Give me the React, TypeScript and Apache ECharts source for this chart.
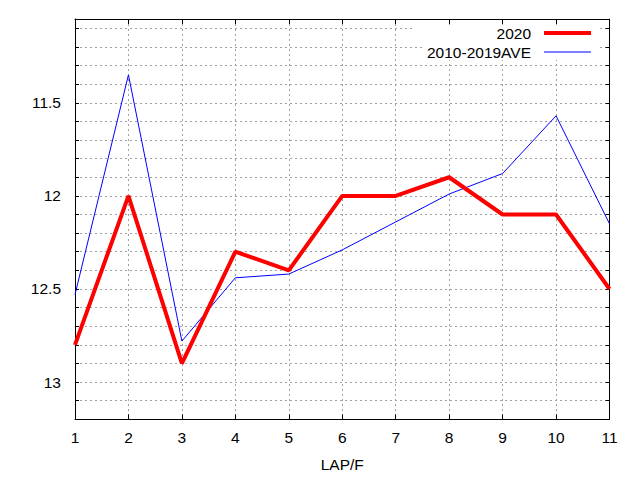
import React, { useEffect, useRef } from "react";
import * as echarts from "echarts";

const laps = [1, 2, 3, 4, 5, 6, 7, 8, 9, 10, 11];
const values2020 = [12.8, 12.0, 12.9, 12.3, 12.4, 12.0, 12.0, 11.9, 12.1, 12.1, 12.5];
const valuesAve = [12.53, 11.35, 12.78, 12.44, 12.42, 12.29, 12.14, 11.99, 11.88, 11.57, 12.15];
const yLabelValues = [11.5, 12, 12.5, 13];
const yGridValues = [11.1, 11.2, 11.3, 11.4, 11.5, 11.6, 11.7, 11.8, 11.9, 12, 12.1, 12.2, 12.3, 12.4, 12.5, 12.6, 12.7, 12.8, 12.9, 13, 13.1];
const seriesNames = ["2020", "2010-2019AVE"];

const FONT = "Liberation Sans, Arial, sans-serif";
const FS = 15.5;

export default function App() {
  const ref = useRef<HTMLDivElement>(null);
  useEffect(() => {
    if (!ref.current) return;
    const chart = echarts.init(ref.current, undefined, { renderer: "svg" });
    const gridLine = { show: true, lineStyle: { color: "#a0a0a0", type: [2, 3], width: 1 } };
    const yBase = {
      type: "value",
      inverse: true,
      min: 11.05,
      max: 13.2,
      axisLine: { show: true, lineStyle: { color: "#000", width: 1 } },
      axisTick: { show: true, inside: true, length: 4, customValues: yGridValues, lineStyle: { color: "#000" } },
    };
    const legendText = {
      color: "#000",
      fontSize: FS,
      fontFamily: FONT,
      rich: { a: { fontSize: FS, fontFamily: FONT, color: "#000", padding: [0, 8, 0, 0] } },
    };
    chart.setOption({
      animation: false,
      backgroundColor: "#fff",
      textStyle: { fontFamily: FONT },
      grid: { left: 75, right: 30.5, top: 19, bottom: 60.7, containLabel: false },
      xAxis: [
        {
          type: "value",
          min: 1,
          max: 11,
          interval: 1,
          position: "bottom",
          name: "LAP/F",
          nameLocation: "middle",
          nameGap: 37,
          nameTextStyle: { color: "#000", fontSize: FS, fontFamily: FONT },
          axisLine: { show: true, onZero: false, lineStyle: { color: "#000", width: 1 } },
          axisTick: { show: true, inside: true, length: 5, lineStyle: { color: "#000" } },
          axisLabel: { color: "#000", fontSize: FS, fontFamily: FONT, margin: 10 },
          splitLine: gridLine,
        },
        {
          type: "value",
          min: 1,
          max: 11,
          interval: 1,
          position: "top",
          axisLine: { show: true, onZero: false, lineStyle: { color: "#000", width: 1 } },
          axisTick: { show: true, inside: true, length: 5, lineStyle: { color: "#000" } },
          axisLabel: { show: false },
          splitLine: { show: false },
        },
      ],
      yAxis: [
        {
          ...yBase,
          position: "left",
          axisLabel: { color: "#000", fontSize: FS, fontFamily: FONT, margin: 14, customValues: yLabelValues },
          splitLine: gridLine,
        },
        {
          ...yBase,
          position: "right",
          axisLabel: { show: false },
          splitLine: { show: false },
        },
      ],
      legend: [
        {
          data: [seriesNames[0]],
          right: 42,
          top: 25,
          align: "right",
          icon: "rect",
          itemWidth: 47,
          itemHeight: 4,
          formatter: "{a|{name}}",
          textStyle: legendText,
          backgroundColor: "#fff",
          padding: [0, 7, 0, 84],
        },
        {
          data: [seriesNames[1]],
          right: 42,
          top: 44,
          align: "right",
          icon: "rect",
          itemWidth: 47,
          itemHeight: 1,
          formatter: "{a|{name}}",
          textStyle: legendText,
          backgroundColor: "#fff",
          padding: [0, 7, 0, 3],
        },
      ],
      series: [
        {
          name: seriesNames[0],
          type: "line",
          data: laps.map((l, i) => [l, values2020[i]]),
          symbol: "none",
          lineStyle: { color: "#ff0000", width: 4 },
          itemStyle: { color: "#ff0000" },
          z: 3,
        },
        {
          name: seriesNames[1],
          type: "line",
          data: laps.map((l, i) => [l, valuesAve[i]]),
          symbol: "none",
          lineStyle: { color: "#0000ff", width: 1 },
          itemStyle: { color: "#0000ff" },
          z: 2,
        },
      ],
    });
    return () => chart.dispose();
  }, []);
  return <div ref={ref} style={{ width: 640, height: 480, position: "absolute", left: 0, top: 0 }} />;
}
